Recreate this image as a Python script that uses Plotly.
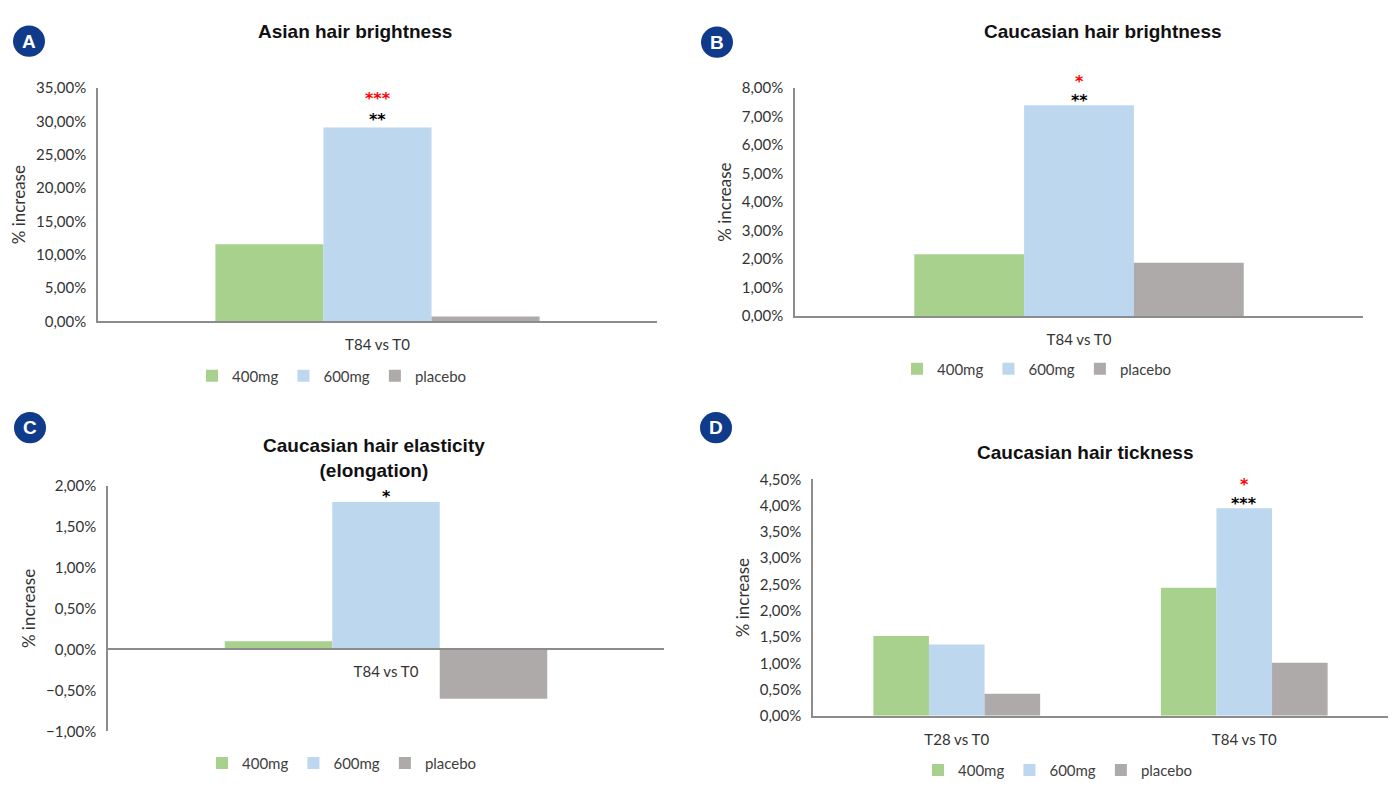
import plotly.graph_objects as go

W, H = 1394, 787

# ---- data -------------------------------------------------------------
series_names = ["400mg", "600mg", "placebo"]
series_colors = ["#a9d18e", "#bdd7ee", "#aeaaaa"]

a_categories = ["T84 vs T0"]
a_400 = [0.1155]
a_600 = [0.291]
a_placebo = [0.0073]

b_categories = ["T84 vs T0"]
b_400 = [0.0217]
b_600 = [0.0740]
b_placebo = [0.0187]

c_categories = ["T84 vs T0"]
c_400 = [0.0010]
c_600 = [0.0180]
c_placebo = [-0.0060]

d_categories = ["T28 vs T0", "T84 vs T0"]
d_400 = [0.0152, 0.0244]
d_600 = [0.0136, 0.0395]
d_placebo = [0.0042, 0.0101]

panel_titles = ["Asian hair brightness", "Caucasian hair brightness",
                "Caucasian hair elasticity<br>(elongation)", "Caucasian hair tickness"]
panel_letters = ["A", "B", "C", "D"]
y_title = "% increase"

# significance marks above the 600mg bar: (red marks, black marks)
a_signif = ("***", "**")
b_signif = ("*", "**")
c_signif = ("", "*")
d_signif = ("*", "***")

# ---- layout helpers (pixel -> paper) -----------------------------------
def px_x(x):
    return x / W

def px_y(y):
    return 1 - y / H

TICK_FONT = dict(family="Lato", size=15, color="#333333")
AXIS_LINE = "#8c8c8c"
STAR_FONT = dict(family="DejaVu Sans", size=16)

panels = [
    dict(cats=a_categories, vals=[a_400, a_600, a_placebo], xd=(98, 657), yd=(80, 319),
         yr=(0, 0.35), dtick=0.05, legend_xy=(332, 375), title_xy=(355, 22),
         badge=(29, 32), signif=a_signif, star_cat=0, shifts=(29, 8)),
    dict(cats=b_categories, vals=[b_400, b_600, b_placebo], xd=(795, 1363), yd=(80, 313.7),
         yr=(0, 0.08), dtick=0.01, legend_xy=(1037, 368), title_xy=(1103, 22),
         badge=(717, 33), signif=b_signif, star_cat=0, shifts=(24, 5)),
    dict(cats=c_categories, vals=[c_400, c_600, c_placebo], xd=(108, 664), yd=(487.3, 739.3),
         yr=(-0.01, 0.02), dtick=0.005, legend_xy=(342, 772), title_xy=(374, 459),
         badge=(30, 428), signif=c_signif, star_cat=0, shifts=(0, 5)),
    dict(cats=d_categories, vals=[d_400, d_600, d_placebo], xd=(813, 1388), yd=(481, 723.3),
         yr=(0, 0.045), dtick=0.005, legend_xy=(1058, 779), title_xy=(1085, 453),
         badge=(716, 428), signif=d_signif, star_cat=1, shifts=(24, 5)),
]

fig = go.Figure()
annotations = []
shapes = []

for i, p in enumerate(panels):
    n = i + 1
    sfx = "" if n == 1 else str(n)
    legend_id = "legend" + sfx
    for name, color, vals in zip(series_names, series_colors, p["vals"]):
        fig.add_trace(go.Bar(
            x=p["cats"], y=vals, name=name, marker=dict(color=color, line=dict(width=0)),
            xaxis="x" + sfx, yaxis="y" + sfx, legend=legend_id, hoverinfo="skip",
        ))

    y0, y1 = px_y(p["yd"][1]), px_y(p["yd"][0])
    ymin, ymax = p["yr"]
    xaxis = dict(
        domain=[px_x(p["xd"][0]), px_x(p["xd"][1])],
        showline=True, linecolor=AXIS_LINE, linewidth=1.5,
        showgrid=False, zeroline=False, ticks="", tickfont=TICK_FONT,
        ticklabelstandoff=9, fixedrange=True,
    )
    if ymin < 0:
        # category axis sits on the zero line
        xaxis.update(anchor="free", position=y0 + (0 - ymin) / (ymax - ymin) * (y1 - y0))
    else:
        xaxis.update(anchor="y" + sfx)
    yaxis = dict(
        domain=[y0, y1], range=[ymin, ymax], dtick=p["dtick"], tick0=0,
        tickformat=".2%", showline=True, linecolor=AXIS_LINE, linewidth=1.5,
        showgrid=False, zeroline=False, ticks="", tickfont=TICK_FONT,
        ticklabelstandoff=7, anchor="x" + sfx, fixedrange=True,
        title=dict(text=y_title, font=dict(family="Lato", size=17, color="#333333"), standoff=6),
    )
    fig.update_layout(**{"xaxis" + sfx: xaxis, "yaxis" + sfx: yaxis})

    lx, ly = p["legend_xy"]
    fig.update_layout(**{legend_id: dict(
        orientation="h", x=px_x(lx), y=px_y(ly), xanchor="center", yanchor="middle",
        font=dict(family="Lato", size=15, color="#404040"), itemwidth=30,
        bgcolor="rgba(0,0,0,0)", itemclick=False, itemdoubleclick=False,
    )})

    tx, ty = p["title_xy"]
    annotations.append(dict(
        text="<b>" + panel_titles[i] + "</b>", x=px_x(tx), y=px_y(ty),
        xref="paper", yref="paper", showarrow=False, xanchor="center", yanchor="middle",
        font=dict(family="Liberation Sans", size=19, color="#111111"),
    ))

    bx, by = p["badge"]
    r = 16
    shapes.append(dict(
        type="circle", xref="paper", yref="paper",
        x0=px_x(bx - r), x1=px_x(bx + r), y0=px_y(by + r), y1=px_y(by - r),
        fillcolor="#103a8a", line=dict(color="#103a8a", width=0),
    ))
    annotations.append(dict(
        text="<b>" + panel_letters[i] + "</b>", x=px_x(bx), y=px_y(by),
        xref="paper", yref="paper", showarrow=False, xanchor="center", yanchor="middle",
        font=dict(family="Liberation Sans", size=19, color="white"),
    ))

    # significance marks above the 600mg bar
    cat = p["cats"][p["star_cat"]]
    top = p["vals"][1][p["star_cat"]]
    for marks, col, shift in zip(p["signif"], ("#ff0000", "#000000"), p["shifts"]):
        if not marks:
            continue
        annotations.append(dict(
            text="<b>" + marks + "</b>", x=cat, y=top, xref="x" + sfx, yref="y" + sfx,
            showarrow=False, xanchor="center", yanchor="middle", yshift=shift,
            font=dict(color=col, **STAR_FONT), borderpad=0, borderwidth=0,
        ))

fig.update_layout(
    width=W, height=H, autosize=False,
    margin=dict(l=0, r=0, t=0, b=0),
    paper_bgcolor="white", plot_bgcolor="white",
    barmode="group", bargap=0.42, bargroupgap=0,
    separators=", ",
    annotations=annotations, shapes=shapes,
    showlegend=True,
)

fig.write_html("out.html", config={"displayModeBar": False})
